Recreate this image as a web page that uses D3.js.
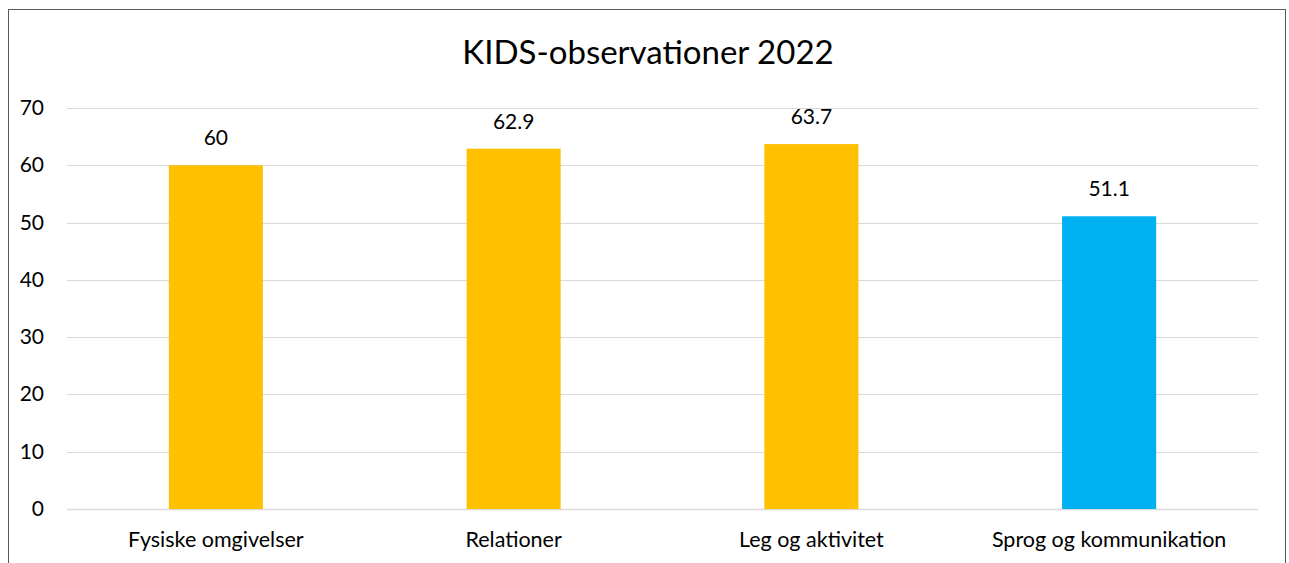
<!DOCTYPE html>
<html><head><meta charset="utf-8">
<script src="https://cdn.jsdelivr.net/npm/d3@7"></script>
<style>body{margin:0;background:#fff}svg{display:block}text{font-family:Lato,"Liberation Sans",sans-serif;fill:#000}</style>
</head><body><svg id="c" width="1289" height="563"></svg>
<script>
(function(){
const title = "KIDS-observationer 2022";
const categories = ["Fysiske omgivelser","Relationer","Leg og aktivitet","Sprog og kommunikation"];
const values = [60, 62.9, 63.7, 51.1];
const barColors = ["#FFC000","#FFC000","#FFC000","#00B0F0"];
const yTicks = [0,10,20,30,40,50,60,70];

const svg = d3.select("#c");
svg.append("rect").attr("x",8.5).attr("y",9.5).attr("width",1277).attr("height",570)
  .attr("fill","#fff").attr("stroke","#595959").attr("stroke-width",1);

const mLeft = 67, mRight = 1258, mTop = 108, mBottom = 509;
const x = d3.scaleBand().domain(categories).range([mLeft,mRight]).paddingInner(0.684).paddingOuter(0.342);
const y = d3.scaleLinear().domain([0,70]).range([mBottom,mTop]);

svg.append("text").attr("x",648).attr("y",64).attr("text-anchor","middle")
  .style("font-size","33px").text(title);

const grid = svg.append("g");
grid.selectAll("line").data(yTicks).join("line")
  .attr("x1",mLeft).attr("x2",mRight)
  .attr("y1",d=>Math.round(y(d))+0.5).attr("y2",d=>Math.round(y(d))+0.5)
  .attr("stroke","#d9d9d9").attr("stroke-width",d=>d===0?1.5:1);

svg.append("g").selectAll("text").data(yTicks).join("text")
  .attr("x",44).attr("y",d=>y(d)+7).attr("text-anchor","end")
  .style("font-size","21px").text(d=>d);

svg.append("g").selectAll("rect").data(categories).join("rect")
  .attr("x",d=>x(d)).attr("width",x.bandwidth())
  .attr("y",(d,i)=>y(values[i])).attr("height",(d,i)=>y(0)-y(values[i]))
  .attr("fill",(d,i)=>barColors[i]);

svg.append("g").selectAll("text").data(categories).join("text")
  .attr("x",d=>x(d)+x.bandwidth()/2).attr("y",(d,i)=>y(values[i])-20)
  .attr("text-anchor","middle").style("font-size","21px").text((d,i)=>values[i]);

svg.append("g").selectAll("text").data(categories).join("text")
  .attr("x",d=>x(d)+x.bandwidth()/2).attr("y",547)
  .attr("text-anchor","middle").style("font-size","21.5px").text(d=>d);
})();
</script></body></html>
